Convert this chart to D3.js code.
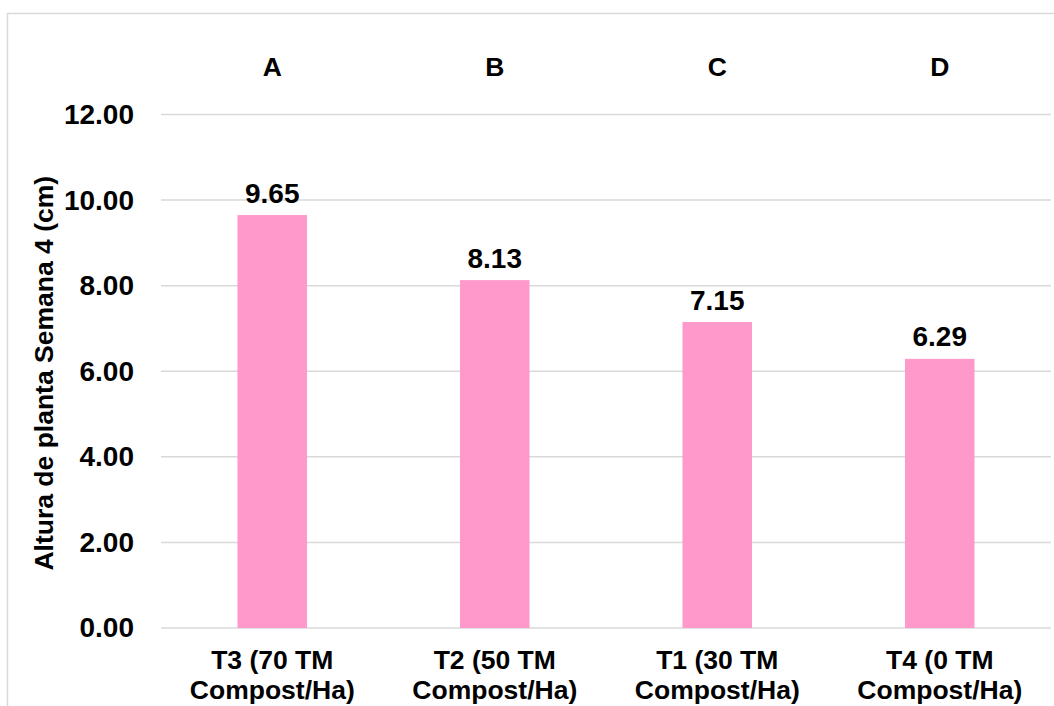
<!DOCTYPE html>
<html>
<head>
<meta charset="utf-8">
<script src="https://cdn.jsdelivr.net/npm/d3@7"></script>
<style>
  html, body { margin: 0; padding: 0; background: #fff; }
  svg { display: block; font-family: "Liberation Sans", Arial, sans-serif; font-weight: bold; }
</style>
</head>
<body>
<svg id="chart" width="1054" height="706"></svg>
<script>
// Plant height at week 4 per compost treatment
const categories = ["T3 (70 TM|Compost/Ha)", "T2 (50 TM|Compost/Ha)", "T1 (30 TM|Compost/Ha)", "T4 (0 TM|Compost/Ha)"];
const heights = [9.65, 8.13, 7.15, 6.29];
const groupLetters = ["A", "B", "C", "D"];
const yTicks = [0, 2, 4, 6, 8, 10, 12];
const yTitle = "Altura de planta Semana 4 (cm)";

const svg = d3.select("#chart");
const W = 1054, H = 706;
const plot = { left: 161, right: 1051, top: 114.5, bottom: 628 };

// chart frame
svg.append("rect")
  .attr("x", 7.5).attr("y", 13.5)
  .attr("width", W + 10).attr("height", H + 10)
  .attr("fill", "#fff").attr("stroke", "#d9d9d9").attr("stroke-width", 1.5);

const x = d3.scaleBand()
  .domain(categories)
  .range([plot.left, plot.right])
  .paddingInner(0.6875)
  .paddingOuter(0.6875 / 2);

const y = d3.scaleLinear()
  .domain([0, 12])
  .range([plot.bottom, plot.top]);

// gridlines
svg.append("g")
  .selectAll("line")
  .data(yTicks)
  .join("line")
  .attr("x1", plot.left).attr("x2", plot.right)
  .attr("y1", d => y(d)).attr("y2", d => y(d))
  .attr("stroke", "#d9d9d9").attr("stroke-width", 1.5);

// y axis labels
const yAxis = d3.axisLeft(y).tickValues(yTicks).tickFormat(d3.format(".2f")).tickSize(0).tickPadding(27);
const gy = svg.append("g").attr("transform", `translate(${plot.left},0)`).call(yAxis);
gy.select(".domain").remove();
gy.selectAll("text")
  .attr("font-family", "Liberation Sans, Arial, sans-serif")
  .attr("font-weight", "bold")
  .attr("font-size", 28)
  .attr("fill", "#000");

// bars
svg.append("g")
  .selectAll("rect")
  .data(heights)
  .join("rect")
  .attr("x", (d, i) => x(categories[i]))
  .attr("width", x.bandwidth())
  .attr("y", d => y(d))
  .attr("height", d => y(0) - y(d))
  .attr("fill", "#ff99cc");

// value labels
svg.append("g")
  .selectAll("text")
  .data(heights)
  .join("text")
  .attr("x", (d, i) => x(categories[i]) + x.bandwidth() / 2)
  .attr("y", d => y(d) - 12.5)
  .attr("text-anchor", "middle")
  .attr("font-size", 28)
  .attr("fill", "#000")
  .text(d => d.toFixed(2));

// significance group letters
svg.append("g")
  .selectAll("text")
  .data(groupLetters)
  .join("text")
  .attr("x", (d, i) => x(categories[i]) + x.bandwidth() / 2)
  .attr("y", 76)
  .attr("text-anchor", "middle")
  .attr("font-size", 26.5)
  .attr("fill", "#000")
  .text(d => d);

// category labels (two lines)
const xAxis = d3.axisBottom(x).tickSize(0).tickFormat("");
const gx = svg.append("g").attr("transform", `translate(0,${plot.bottom})`).call(xAxis);
gx.select(".domain").remove();
gx.selectAll(".tick").each(function(d) {
  const t = d3.select(this).append("text")
    .attr("text-anchor", "middle")
    .attr("font-family", "Liberation Sans, Arial, sans-serif")
    .attr("font-weight", "bold")
    .attr("font-size", 26.5)
    .attr("fill", "#000");
  d.split("|").forEach((line, k) => {
    t.append("tspan").attr("x", 0).attr("y", 41 + k * 29.5).text(line);
  });
});

// y axis title
svg.append("text")
  .attr("transform", `translate(53,${(plot.top + plot.bottom) / 2 + 2}) rotate(-90)`)
  .attr("text-anchor", "middle")
  .attr("font-size", 26.5)
  .attr("fill", "#000")
  .text(yTitle);
</script>
</body>
</html>
